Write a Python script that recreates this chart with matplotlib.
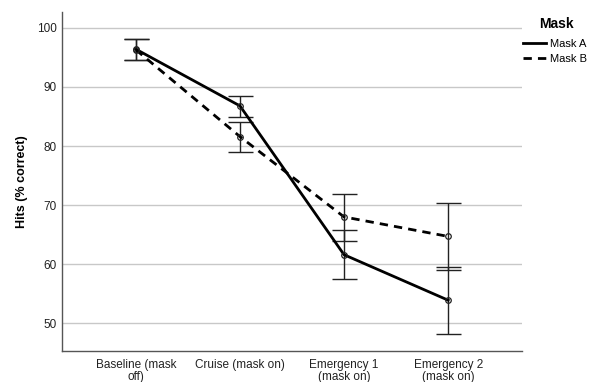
import matplotlib.pyplot as plt
import numpy as np

plt.rcParams['font.family'] = ['Liberation Sans', 'DejaVu Sans']

categories = ["Baseline (mask\noff)", "Cruise (mask on)", "Emergency 1\n(mask on)", "Emergency 2\n(mask on)"]
mask_a = [96.4, 86.8, 61.6, 53.9]
mask_a_lo = [94.6, 85.0, 57.5, 48.1]
mask_a_hi = [98.1, 88.4, 65.8, 59.6]
mask_b = [96.3, 81.6, 68.0, 64.7]
mask_b_lo = [94.6, 79.0, 64.0, 59.0]
mask_b_hi = [98.1, 84.0, 71.9, 70.3]
yticks = [50, 60, 70, 80, 90, 100]

fig = plt.figure(figsize=(5.92, 3.82), dpi=100)
ax = fig.add_axes([0.1047, 0.0812, 0.7771, 0.8874])
x = np.arange(len(categories))

for vals, lo, hi in [(mask_a, mask_a_lo, mask_a_hi), (mask_b, mask_b_lo, mask_b_hi)]:
    vals = np.array(vals); lo = np.array(lo); hi = np.array(hi)
    ax.errorbar(x, vals, yerr=[vals - lo, hi - vals], fmt='none', ecolor='#222222',
                elinewidth=1.0, capsize=9, capthick=1.0, zorder=2)

ax.plot(x, mask_a, color='black', lw=2.0, ls='-', marker='o', ms=4, mfc='none', mec='#222222', mew=0.9, label='Mask A', zorder=3)
ax.plot(x, mask_b, color='black', lw=2.0, ls=(0, (3, 2.2)), marker='o', ms=4, mfc='none', mec='#222222', mew=0.9, label='Mask B', zorder=3)

ax.set_xlim(-0.71, 3.71)
ax.set_ylim(45.3, 102.7)
ax.set_yticks(yticks)
ax.set_xticks(x)
ax.set_xticklabels(categories, fontsize=8.5, color='#222222', linespacing=0.95)
ax.tick_params(axis='y', labelsize=8.5, labelcolor='#222222', length=0, pad=4)
ax.tick_params(axis='x', length=0, pad=6)
ax.yaxis.grid(True, color='#c8c8c8', lw=1.0)
ax.set_axisbelow(True)
for s in ['top', 'right']:
    ax.spines[s].set_visible(False)
for s in ['left', 'bottom']:
    ax.spines[s].set_color('#555555')
    ax.spines[s].set_linewidth(1.0)
ax.set_ylabel('Hits (% correct)', fontsize=9, fontweight='bold', labelpad=6)

fig.text(556 / 592, 1 - 24.5 / 382, 'Mask', fontsize=10, fontweight='bold', ha='center', va='center')
leg = fig.legend(*ax.get_legend_handles_labels(), loc='upper left',
                 bbox_to_anchor=(523 / 592, 1 - 39 / 382), frameon=False, fontsize=8,
                 handlelength=2.1, handletextpad=0.3, labelspacing=0.45,
                 borderpad=0, borderaxespad=0)
for h in leg.get_lines():
    h.set_marker('')

fig.savefig('out.png', dpi=100)
